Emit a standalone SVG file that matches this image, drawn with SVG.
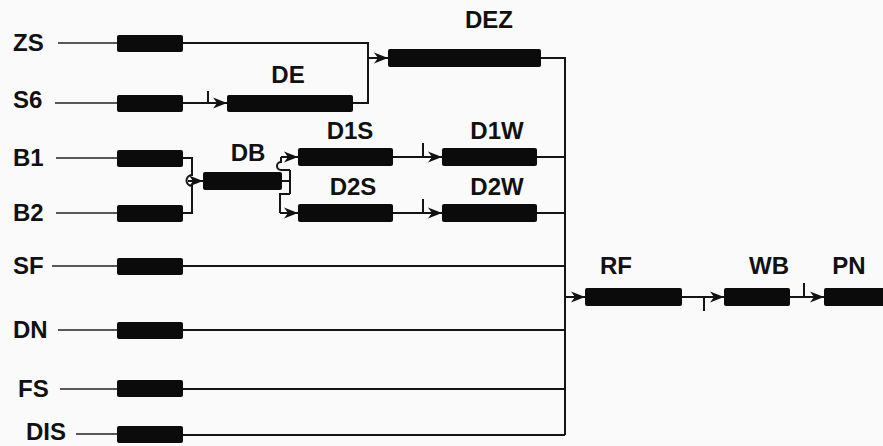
<svg xmlns="http://www.w3.org/2000/svg" width="883" height="446" viewBox="0 0 883 446">
<defs>
<marker id="arr" markerUnits="userSpaceOnUse" markerWidth="16" markerHeight="12" refX="14" refY="6" orient="auto">
<path d="M0,0.5 L14,6 L0,11.5 L4,6 Z" fill="#111"/>
</marker>
<style>
.lbl{font-family:"Liberation Sans",Arial,sans-serif;font-weight:bold;font-size:24px;fill:#111}
.box{fill:#0b0b0b}
.in{stroke:#222;stroke-width:1.3;fill:none}
.ln{stroke:#151515;stroke-width:2;fill:none}
</style>
</defs>
<rect width="883" height="446" fill="#fafafa"/>
<g id="connectors">
<path class="in" d="M58,43 H117"/>
<path class="in" d="M55,103 H117"/>
<path class="in" d="M56,158 H117"/>
<path class="in" d="M56,213 H117"/>
<path class="in" d="M52,266 H117"/>
<path class="in" d="M58,330 H117"/>
<path class="in" d="M60,389 H117"/>
<path class="in" d="M76,434 H117"/>
<path class="ln" d="M183,43 H368 V103 H353"/>
<path class="ln" d="M368,58 H388" marker-end="url(#arr)"/>
<path class="ln" d="M183,103 H227" marker-end="url(#arr)"/>
<path class="ln" d="M208,91 V103"/>
<path class="ln" d="M183,158 H192 V175 A5,5 0 0 0 192,186 V213 H183"/>
<path class="ln" d="M188,181 H203" marker-end="url(#arr)"/>
<path class="ln" d="M282,181 H290 M290,170 V194 M290,170 H281 A4,4 0 0 1 281,162 V157 M290,194 H280 V213"/>
<path class="ln" d="M281,157 H298" marker-end="url(#arr)"/>
<path class="ln" d="M280,213 H298" marker-end="url(#arr)"/>
<path class="ln" d="M393,157 H442" marker-end="url(#arr)"/>
<path class="ln" d="M423,143 V157"/>
<path class="ln" d="M393,213 H442" marker-end="url(#arr)"/>
<path class="ln" d="M423,199 V213"/>
<path class="ln" d="M541,58 H565 V435"/>
<path class="ln" d="M537,157 H565 M537,213 H565 M183,266 H565 M183,330 H565 M183,389 H565 M183,435 H565"/>
<path class="ln" d="M565,297 H585" marker-end="url(#arr)"/>
<path class="ln" d="M682,297 H724" marker-end="url(#arr)"/>
<path class="ln" d="M704,297 V311"/>
<path class="ln" d="M790,297 H824" marker-end="url(#arr)"/>
<path class="ln" d="M804,283 V297"/>
</g>
<g id="ZS"><text class="lbl" x="13" y="51">ZS</text><rect class="box" x="117" y="35" width="66" height="17" rx="2"/></g>
<g id="S6"><text class="lbl" x="13" y="108">S6</text><rect class="box" x="117" y="95" width="66" height="17" rx="2"/></g>
<g id="B1"><text class="lbl" x="13" y="166">B1</text><rect class="box" x="117" y="150" width="66" height="17" rx="2"/></g>
<g id="B2"><text class="lbl" x="13" y="221">B2</text><rect class="box" x="117" y="205" width="66" height="17" rx="2"/></g>
<g id="SF"><text class="lbl" x="13" y="274">SF</text><rect class="box" x="117" y="258" width="66" height="17" rx="2"/></g>
<g id="DN"><text class="lbl" x="13" y="338">DN</text><rect class="box" x="117" y="322" width="66" height="17" rx="2"/></g>
<g id="FS"><text class="lbl" x="18" y="397">FS</text><rect class="box" x="117" y="380" width="66" height="17" rx="2"/></g>
<g id="DIS"><text class="lbl" x="26" y="440">DIS</text><rect class="box" x="117" y="426" width="66" height="17" rx="2"/></g>
<g id="DEZ"><text class="lbl" x="489" y="28" text-anchor="middle">DEZ</text><rect class="box" x="388" y="49" width="153" height="18" rx="2"/></g>
<g id="DE"><text class="lbl" x="288" y="83" text-anchor="middle">DE</text><rect class="box" x="227" y="95" width="126" height="17" rx="2"/></g>
<g id="DB"><text class="lbl" x="248" y="161" text-anchor="middle">DB</text><rect class="box" x="203" y="172" width="79" height="18" rx="2"/></g>
<g id="D1S"><text class="lbl" x="350" y="139" text-anchor="middle">D1S</text><rect class="box" x="298" y="148" width="95" height="18" rx="2"/></g>
<g id="D2S"><text class="lbl" x="353" y="195" text-anchor="middle">D2S</text><rect class="box" x="298" y="204" width="95" height="18" rx="2"/></g>
<g id="D1W"><text class="lbl" x="497" y="139" text-anchor="middle">D1W</text><rect class="box" x="442" y="148" width="95" height="18" rx="2"/></g>
<g id="D2W"><text class="lbl" x="497" y="195" text-anchor="middle">D2W</text><rect class="box" x="442" y="204" width="95" height="18" rx="2"/></g>
<g id="RF"><text class="lbl" x="616" y="274" text-anchor="middle">RF</text><rect class="box" x="585" y="288" width="97" height="18" rx="2"/></g>
<g id="WB"><text class="lbl" x="769" y="274" text-anchor="middle">WB</text><rect class="box" x="724" y="288" width="66" height="18" rx="2"/></g>
<g id="PN"><text class="lbl" x="849" y="274" text-anchor="middle">PN</text><rect class="box" x="824" y="288" width="62" height="18" rx="2"/></g>
</svg>
